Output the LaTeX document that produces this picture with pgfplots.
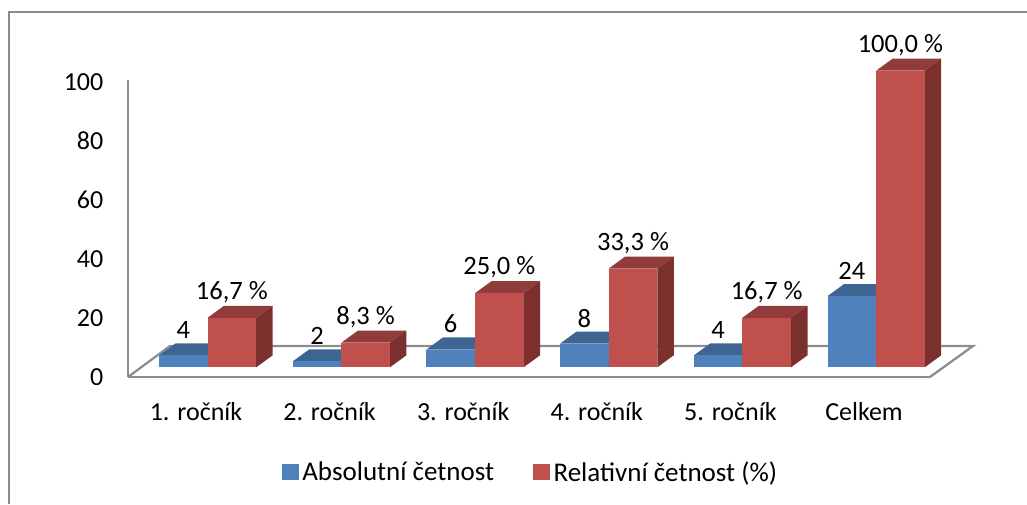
\documentclass[border=0pt]{standalone}
\usepackage{pgfplots}
\pgfplotsset{compat=1.18}
\usepackage{fontspec}
\setmainfont{Carlito}
\definecolor{bfront}{HTML}{4F81BD}
\definecolor{btop}{HTML}{3E6592}
\definecolor{rfront}{HTML}{C0504D}
\definecolor{rtop}{HTML}{903C3A}
\definecolor{rside}{HTML}{7C302E}
\definecolor{framegray}{HTML}{8C8C8C}
% one 3D bar: centre x, value, label, front, top, side colours
\newcommand{\threedbar}[6]{%
  \pgfmathsetmacro{\xa}{#1-24.3}\pgfmathsetmacro{\xb}{#1+24.3}%
  \pgfmathsetmacro{\xc}{#1-7.8}\pgfmathsetmacro{\xd}{#1+40.8}%
  \pgfmathsetmacro{\yt}{#2+4.05}%
  \addplot[fill=#5,draw=none] coordinates {(\xa,#2) (\xb,#2) (\xd,\yt) (\xc,\yt)} --cycle;
  \addplot[fill=#6,draw=none] coordinates {(\xb,0) (\xd,4.05) (\xd,\yt) (\xb,#2)} --cycle;
  \addplot[ybar,bar width=48.6pt,bar shift=0pt,fill=#4,draw=none,
    point meta=explicit symbolic,nodes near coords,
    every node near coord/.append style={anchor=center,yshift=25.5pt,text=black,font=\fontsize{26.5}{30}\selectfont}]
    coordinates {(#1,#2) [#3]};
}
\begin{document}
\begin{tikzpicture}[x=1pt,y=1pt]
\path[use as bounding box] (0pt,0pt) rectangle (1027pt,504pt);
% y axis, floor front edge, category labels
\begin{axis}[
  name=ticks,
  at={(128pt,127pt)},anchor=south west,
  scale only axis,width=802pt,height=297pt,
  xmin=0,xmax=802,ymin=0,ymax=100.7,
  axis lines=left,
  axis line style={-,draw=framegray,line width=2.25pt},
  tick style={draw=none},
  ytick={0,20,40,60,80,100},
  xtick={68,201.6,335.2,468.8,602.4,736},
  xticklabels={1. ročník,2. ročník,3. ročník,4. ročník,5. ročník,Celkem},
  tick label style={font=\fontsize{26}{30}\selectfont},
  /pgf/number format/assume math mode=true,
  yticklabel style={xshift=-19pt},
  xticklabel style={anchor=center,yshift=-32pt},
]
\addplot[draw=none] coordinates {(0,0) (802,100)};
\end{axis}
% bars
\begin{axis}[
  at={(0pt,0pt)},anchor=south west,
  scale only axis,width=1027pt,height=504pt,
  xmin=0,xmax=1027,ymin=-46.09,ymax=123.84,
  hide axis,clip=false,
  legend style={at={(axis cs:530.5,-35.3)},anchor=center,draw=none,fill=none,
    legend columns=2,font=\fontsize{27}{30}\selectfont,
    /tikz/every even column/.append style={column sep=37pt},
    /tikz/every odd column/.append style={column sep=2pt}},
  legend image code/.code={\fill[#1] (0pt,-7.5pt) rectangle (16pt,7.5pt);},
]
\addlegendimage{bfront}\addlegendentry{Absolutní četnost}
\addlegendimage{rfront}\addlegendentry{Relativní četnost (\%)}
% chart frame (open at the right)
\draw[framegray,line width=1.5pt] (axis cs:9,-46.09) -- (axis cs:9,119.8) -- (axis cs:1027,119.8);
% floor
\addplot[draw=framegray,line width=2.25pt] coordinates {(128,-3.27) (170,7.18) (973,7.18) (930,-3.27)};
\threedbar{183.3}{4}{4}{bfront}{btop}{btop}
\threedbar{231.9}{16.7}{16,7 \%}{rfront}{rtop}{rside}
\threedbar{317.0}{2}{2}{bfront}{btop}{btop}
\threedbar{365.6}{8.3}{8,3 \%}{rfront}{rtop}{rside}
\threedbar{450.7}{6}{6}{bfront}{btop}{btop}
\threedbar{499.3}{25}{25,0 \%}{rfront}{rtop}{rside}
\threedbar{584.4}{8}{8}{bfront}{btop}{btop}
\threedbar{633.0}{33.3}{33,3 \%}{rfront}{rtop}{rside}
\threedbar{718.1}{4}{4}{bfront}{btop}{btop}
\threedbar{766.7}{16.7}{16,7 \%}{rfront}{rtop}{rside}
\threedbar{851.8}{24}{24}{bfront}{btop}{btop}
\threedbar{900.4}{100}{100,0 \%}{rfront}{rtop}{rside}
\end{axis}
\end{tikzpicture}
\end{document}
